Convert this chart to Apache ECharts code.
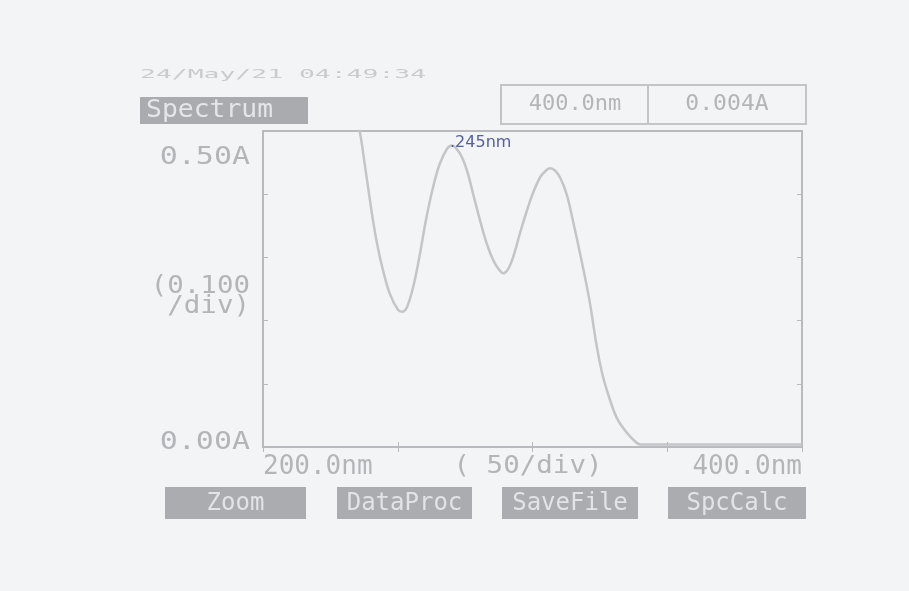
<!DOCTYPE html>
<html>
<head>
<meta charset="utf-8">
<script src="https://cdn.jsdelivr.net/npm/echarts@6/dist/echarts.min.js"></script>
<style>
  html, body { margin: 0; padding: 0; background: #f3f4f6; }
  #chart { width: 909px; height: 591px; }
</style>
</head>
<body>
<div id="chart"></div>
<script>
// Absorption spectrum, 200–400 nm
const wavelengths = [
  232, 234, 236, 238, 240.8, 242.5, 244.5, 247, 250.1, 251.6, 253.5, 256, 258.3,
  260.5, 263.1, 265.5, 268.3, 270.1, 272, 274, 276, 278, 280.5, 283, 285.4, 287.5,
  289.1, 291, 293, 295.4, 298, 300.2, 303, 305.4, 306.5, 308.5, 310.5, 312.8,
  315, 317.6, 319.5, 321.3, 323.9, 326, 328.8, 331.5, 335.1, 338, 339.9, 345,
  355, 370, 385, 400
];
const absorbance = [
  0.560, 0.528, 0.497, 0.440, 0.359, 0.318, 0.280, 0.243, 0.217, 0.214, 0.222, 0.258, 0.307,
  0.360, 0.411, 0.447, 0.472, 0.477, 0.471, 0.457, 0.433, 0.400, 0.359, 0.322, 0.296, 0.281,
  0.275, 0.282, 0.303, 0.339, 0.375, 0.402, 0.428, 0.439, 0.441, 0.437, 0.424, 0.398,
  0.358, 0.307, 0.268, 0.228, 0.158, 0.114, 0.074, 0.044, 0.022, 0.009, 0.004, 0.004,
  0.004, 0.004, 0.004, 0.004
];

const xTickLabels = ['200.0nm', '400.0nm'];
const yTickLabels = ['0.00A', '0.50A'];
const yScaleText = ['(0.100', '/div)'];
const xScaleText = '( 50/div)';
const titleText = 'Spectrum';
const stampText = '24/May/21 04:49:34';
const cursorText = ['400.0nm', '0.004A'];
const softKeys = ['Zoom', 'DataProc', 'SaveFile', 'SpcCalc'];
const peakNote = '.245nm';

const ink = '#b3b5b9';
const frame = '#b8babe';
const mono = '"DejaVu Sans Mono", "Liberation Mono", monospace';

const chart = echarts.init(document.getElementById('chart'));

function txt(x, y, text, size, opts) {
  opts = opts || {};
  return {
    type: 'text', x: x, y: y, scaleX: opts.sx || 1, z: 10,
    style: {
      text: text,
      font: (opts.weight || 'normal') + ' ' + size + 'px ' + (opts.family || mono),
      fill: opts.fill || ink,
      align: opts.align || 'left',
      verticalAlign: 'middle'
    }
  };
}

const keyBoxes = [[165, 141], [337, 135], [502, 136], [668, 138]];
const graphics = [
  txt(140, 75, stampText, 12, { sx: 2.2, fill: '#c9cbcf' }),
  { type: 'rect', shape: { x: 140, y: 97, width: 168, height: 27 }, style: { fill: '#a9abaf' } },
  txt(146, 111, titleText, 24, { sx: 1.1, fill: '#e4e5e8' }),
  { type: 'rect', shape: { x: 501, y: 85, width: 305, height: 39 }, style: { fill: 'none', stroke: '#c2c4c8', lineWidth: 2 } },
  { type: 'line', shape: { x1: 648, y1: 85, x2: 648, y2: 124 }, style: { stroke: '#c2c4c8', lineWidth: 2 } },
  txt(575, 104, cursorText[0], 22, { sx: 1.0, align: 'center' }),
  txt(727, 104, cursorText[1], 22, { sx: 1.05, align: 'center' }),
  txt(250, 157, yTickLabels[1], 25, { sx: 1.2, align: 'right' }),
  txt(250, 442, yTickLabels[0], 25, { sx: 1.2, align: 'right' }),
  txt(250, 286, yScaleText[0], 25, { sx: 1.1, align: 'right' }),
  txt(250, 306, yScaleText[1], 25, { sx: 1.1, align: 'right' }),
  txt(528, 466, xScaleText, 25, { sx: 1.1, align: 'center' }),
  txt(450, 143, peakNote, 16, { family: '"DejaVu Sans", sans-serif', fill: '#56609c' })
];
softKeys.forEach(function (k, i) {
  const b = keyBoxes[i];
  graphics.push({ type: 'rect', shape: { x: b[0], y: 487, width: b[1], height: 32 }, style: { fill: '#aaacb0' }, z: 9 });
  graphics.push(txt(b[0] + b[1] / 2, 504, k, 24, { sx: 1.0, align: 'center', fill: '#e2e3e6' }));
});

const tickAxis = {
  axisLine: { show: true, lineStyle: { color: frame, width: 2 } },
  axisTick: { show: true, inside: true, length: 5, lineStyle: { color: frame } },
  splitLine: { show: false }
};

chart.setOption({
  backgroundColor: '#f3f4f6',
  animation: false,
  grid: {
    left: 263, right: 107, top: 131, bottom: 144,
    show: true, borderColor: frame, borderWidth: 2, backgroundColor: 'transparent'
  },
  xAxis: [
    Object.assign({
      type: 'value', min: 200, max: 400, interval: 50, position: 'bottom',
      axisLabel: {
        show: true, margin: 7, color: ink, fontFamily: mono, fontSize: 26,
        alignMinLabel: 'left', alignMaxLabel: 'right',
        formatter: function (v) {
          if (v === 200) return xTickLabels[0];
          if (v === 400) return xTickLabels[1];
          return '';
        }
      }
    }, tickAxis),
    Object.assign({
      type: 'value', min: 200, max: 400, interval: 50, position: 'top',
      axisLabel: { show: false }
    }, tickAxis)
  ],
  yAxis: [
    Object.assign({
      type: 'value', min: 0, max: 0.5, interval: 0.1, position: 'left',
      axisLabel: { show: false }
    }, tickAxis),
    Object.assign({
      type: 'value', min: 0, max: 0.5, interval: 0.1, position: 'right',
      axisLabel: { show: false }
    }, tickAxis)
  ],
  graphic: graphics,
  series: [{
    type: 'line',
    data: wavelengths.map(function (w, i) { return [w, absorbance[i]]; }),
    smooth: 0.35,
    showSymbol: false,
    clip: true,
    lineStyle: { color: '#c3c5c9', width: 2.5 }
  }]
});
</script>
</body>
</html>
